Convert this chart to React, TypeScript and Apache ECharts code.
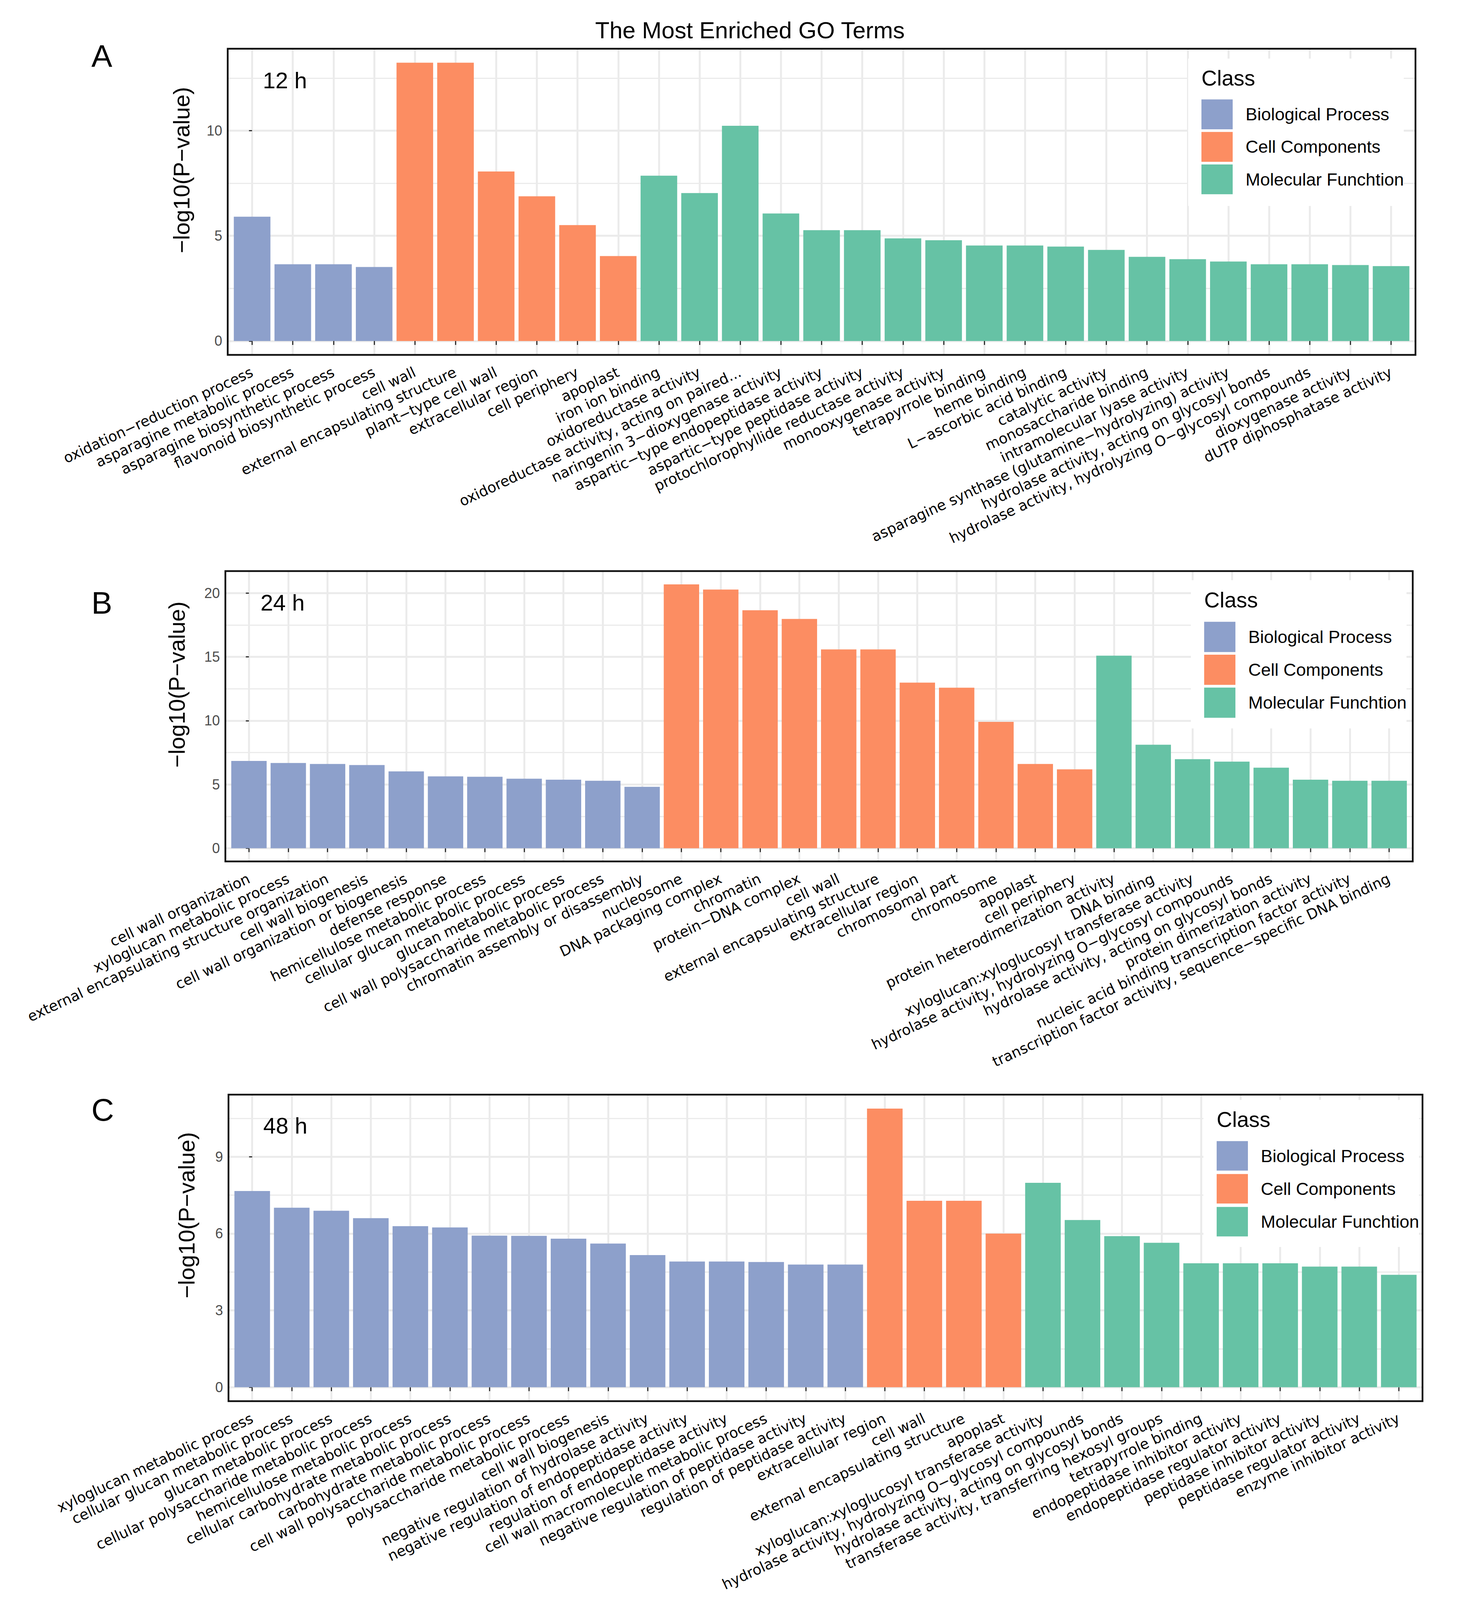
import { useEffect, useRef } from "react";
import * as echarts from "echarts";

const CLASS_NAMES = ["Biological Process", "Cell Components", "Molecular Funchtion"];
const CLASS_COLORS = ["#8DA0CB", "#FC8D62", "#66C2A5"];

// ---- 12 h ----
const BP_12H = ["oxidation−reduction process", "asparagine metabolic process", "asparagine biosynthetic process", "flavonoid biosynthetic process"];
const BP_12H_VALUES = [5.91, 3.65, 3.65, 3.52];
const CC_12H = ["cell wall", "external encapsulating structure", "plant−type cell wall", "extracellular region", "cell periphery", "apoplast"];
const CC_12H_VALUES = [13.23, 13.23, 8.06, 6.88, 5.51, 4.04];
const MF_12H = [
  "iron ion binding", "oxidoreductase activity", "oxidoreductase activity, acting on paired...",
  "naringenin 3−dioxygenase activity", "aspartic−type endopeptidase activity", "aspartic−type peptidase activity",
  "protochlorophyllide reductase activity", "monooxygenase activity", "tetrapyrrole binding", "heme binding",
  "L−ascorbic acid binding", "catalytic activity", "monosaccharide binding", "intramolecular lyase activity",
  "asparagine synthase (glutamine−hydrolyzing) activity", "hydrolase activity, acting on glycosyl bonds",
  "hydrolase activity, hydrolyzing O−glycosyl compounds", "dioxygenase activity", "dUTP diphosphatase activity",
];
const MF_12H_VALUES = [7.86, 7.03, 10.23, 6.06, 5.27, 5.27, 4.88, 4.79, 4.54, 4.54, 4.49, 4.33, 4.0, 3.89, 3.78, 3.65, 3.65, 3.61, 3.56];
const TICKS_12H = [0, 5, 10];
const MINOR_12H = [2.5, 7.5, 12.5];

// ---- 24 h ----
const BP_24H = [
  "cell wall organization", "xyloglucan metabolic process", "external encapsulating structure organization",
  "cell wall biogenesis", "cell wall organization or biogenesis", "defense response", "hemicellulose metabolic process",
  "cellular glucan metabolic process", "glucan metabolic process", "cell wall polysaccharide metabolic process",
  "chromatin assembly or disassembly",
];
const BP_24H_VALUES = [6.84, 6.68, 6.6, 6.52, 6.02, 5.63, 5.6, 5.45, 5.37, 5.29, 4.81];
const CC_24H = [
  "nucleosome", "DNA packaging complex", "chromatin", "protein−DNA complex", "cell wall",
  "external encapsulating structure", "extracellular region", "chromosomal part", "chromosome", "apoplast", "cell periphery",
];
const CC_24H_VALUES = [20.68, 20.27, 18.65, 17.97, 15.58, 15.58, 12.98, 12.58, 9.9, 6.6, 6.18];
const MF_24H = [
  "protein heterodimerization activity", "DNA binding", "xyloglucan:xyloglucosyl transferase activity",
  "hydrolase activity, hydrolyzing O−glycosyl compounds", "hydrolase activity, acting on glycosyl bonds",
  "protein dimerization activity", "nucleic acid binding transcription factor activity",
  "transcription factor activity, sequence−specific DNA binding",
];
const MF_24H_VALUES = [15.09, 8.11, 6.98, 6.79, 6.31, 5.37, 5.29, 5.29];
const TICKS_24H = [0, 5, 10, 15, 20];
const MINOR_24H = [2.5, 7.5, 12.5, 17.5];

// ---- 48 h ----
const BP_48H = [
  "xyloglucan metabolic process", "cellular glucan metabolic process", "glucan metabolic process",
  "cellular polysaccharide metabolic process", "hemicellulose metabolic process", "cellular carbohydrate metabolic process",
  "carbohydrate metabolic process", "cell wall polysaccharide metabolic process", "polysaccharide metabolic process",
  "cell wall biogenesis", "negative regulation of hydrolase activity", "negative regulation of endopeptidase activity",
  "regulation of endopeptidase activity", "cell wall macromolecule metabolic process",
  "negative regulation of peptidase activity", "regulation of peptidase activity",
];
const BP_48H_VALUES = [7.66, 7.01, 6.89, 6.6, 6.29, 6.24, 5.92, 5.91, 5.8, 5.61, 5.16, 4.91, 4.91, 4.89, 4.79, 4.79];
const CC_48H = ["extracellular region", "cell wall", "external encapsulating structure", "apoplast"];
const CC_48H_VALUES = [10.88, 7.28, 7.28, 6.0];
const MF_48H = [
  "xyloglucan:xyloglucosyl transferase activity", "hydrolase activity, hydrolyzing O−glycosyl compounds",
  "hydrolase activity, acting on glycosyl bonds", "transferase activity, transferring hexosyl groups",
  "tetrapyrrole binding", "endopeptidase inhibitor activity", "endopeptidase regulator activity",
  "peptidase inhibitor activity", "peptidase regulator activity", "enzyme inhibitor activity",
];
const MF_48H_VALUES = [7.98, 6.53, 5.9, 5.64, 4.84, 4.84, 4.84, 4.71, 4.71, 4.39];
const TICKS_48H = [0, 3, 6, 9];
const MINOR_48H = [1.5, 4.5, 7.5, 10.5];

const FONT = '"Liberation Sans", Arial, sans-serif';
const LABEL_FONT = '"DejaVu Sans", Verdana, sans-serif';
const GRID_COLOR = "#EBEBEB";
const PAGE_W = 3738;
const PAGE_H = 4233;

// layout of the three panels (pixels, in a 3738 x 4233 page)
const PANELS = [
  {
    letter: "A", time: "12 h",
    groups: [[BP_12H, BP_12H_VALUES], [CC_12H, CC_12H_VALUES], [MF_12H, MF_12H_VALUES]] as [string[], number[]][],
    ticks: TICKS_12H, minor: MINOR_12H,
    left: 583, right: 3624, top: 129, bottom: 939,
    keyLeft: 3076, keyTop: 263, keyH: 79, keyGap: 7, classY: 227,
    box: [3042, 155, 552, 390], yTitle: [464, 450], letterY: 177, timeX: 673, timeY: 233,
  },
  {
    letter: "B", time: "24 h",
    groups: [[BP_24H, BP_24H_VALUES], [CC_24H, CC_24H_VALUES], [MF_24H, MF_24H_VALUES]] as [string[], number[]][],
    ticks: TICKS_24H, minor: MINOR_24H,
    left: 577, right: 3617, top: 1511, bottom: 2279,
    keyLeft: 3083, keyTop: 1645, keyH: 80, keyGap: 7, classY: 1607,
    box: [3049, 1535, 552, 392], yTitle: [452, 1811], letterY: 1624, timeX: 667, timeY: 1615,
  },
  {
    letter: "C", time: "48 h",
    groups: [[BP_48H, BP_48H_VALUES], [CC_48H, CC_48H_VALUES], [MF_48H, MF_48H_VALUES]] as [string[], number[]][],
    ticks: TICKS_48H, minor: MINOR_48H,
    left: 585, right: 3642, top: 2896, bottom: 3707,
    keyLeft: 3115, keyTop: 3019, keyH: 78, keyGap: 9, classY: 2982,
    box: [3081, 2910, 552, 389], yTitle: [477, 3215], letterY: 2965, timeX: 674, timeY: 2999,
  },
];

// s squeezes the layout vertically when the window is shorter than the page
function buildOption(s: number): echarts.EChartsOption {
  const Y = (v: number) => v * s;
  const grid: any[] = [];
  const xAxis: any[] = [];
  const yAxis: any[] = [];
  const series: any[] = [];
  const legend: any[] = [];
  const graphic: any[] = [];

  const text = (x: number, y: number, str: string, size: number, extra: any = {}) => ({
    type: "text", x, y, z: 20,
    style: {
      text: str, fontSize: size, fontFamily: FONT, fill: "#000",
      align: "left", verticalAlign: "middle", textAlign: "left", textVerticalAlign: "middle",
      ...(extra.style || {}),
    },
    ...(extra.el || {}),
  });

  graphic.push(text(1920, Y(102) - 0.35 * 60, "The Most Enriched GO Terms", 60, {
    style: { align: "center", textAlign: "center" },
  }));

  PANELS.forEach((p, i) => {
    const terms = p.groups.flatMap((g) => g[0]);
    const values = p.groups.flatMap((g) => g[1]);
    const n = terms.length;
    const idx = terms.map((_, k) => k);
    const vmax = Math.max(...values);
    const top = Y(p.top);
    const bottom = Y(p.bottom);

    grid.push({ left: p.left, top, width: p.right - p.left, height: bottom - top });

    xAxis.push({
      type: "value", gridIndex: i, min: -0.6, max: n - 0.4,
      axisLine: { show: false },
      axisTick: { show: true, customValues: idx, length: 10, lineStyle: { color: "#333", width: 3 } },
      axisLabel: {
        show: true, customValues: idx, rotate: 25, margin: 42,
        formatter: (v: number) => terms[Math.round(v)] ?? "",
        fontSize: 37, fontFamily: LABEL_FONT, color: "#000",
      },
      splitLine: { show: true, lineStyle: { color: GRID_COLOR, width: 5 } },
    });

    const ymin = -0.05 * vmax;
    const ymax = 1.05 * vmax;
    yAxis.push({
      type: "value", gridIndex: i, min: ymin, max: ymax, position: "left",
      axisLine: { show: false },
      axisTick: { show: true, customValues: p.ticks, length: 8, lineStyle: { color: "#333", width: 3 } },
      axisLabel: { show: true, customValues: p.ticks, margin: 14, fontSize: 36, fontFamily: FONT, color: "#4D4D4D" },
      splitLine: { show: true, lineStyle: { color: GRID_COLOR, width: 5 } },
    });
    yAxis.push({
      type: "value", gridIndex: i, min: ymin, max: ymax, position: "left",
      axisLine: { show: false },
      axisTick: { show: false, customValues: p.minor },
      axisLabel: { show: false, customValues: p.minor },
      splitLine: { show: true, lineStyle: { color: GRID_COLOR, width: 3 } },
    });

    let start = 0;
    p.groups.forEach((g, c) => {
      const first = start;
      series.push({
        type: "bar", name: CLASS_NAMES[c], xAxisIndex: i, yAxisIndex: 2 * i,
        data: g[1].map((v, k) => [first + k, v]),
        barWidth: "90%", barGap: "-100%",
        itemStyle: { color: CLASS_COLORS[c] },
        silent: true, z: 3,
      });
      start += g[0].length;
    });

    legend.push({
      left: p.keyLeft, top: Y(p.keyTop), orient: "vertical", padding: 0,
      itemWidth: 80, itemHeight: Y(p.keyH), itemGap: Y(p.keyGap), icon: "rect",
      selectedMode: false, data: CLASS_NAMES, z: 8,
      textStyle: { fontSize: 45, fontFamily: FONT, color: "#000", padding: [0, 0, 0, 28] },
    });

    // white legend box
    graphic.push({
      type: "rect", z: 1,
      shape: { x: p.box[0], y: Y(p.box[1]), width: p.box[2], height: Y(p.box[3]) },
      style: { fill: "#fff" },
    });
    // panel border
    graphic.push({
      type: "rect", z: 15,
      shape: { x: p.left, y: top, width: p.right - p.left, height: bottom - top },
      style: { fill: "none", stroke: "#111", lineWidth: 4.5 },
    });
    graphic.push(text(p.keyLeft, Y(p.classY) - 0.35 * 55, "Class", 55));
    graphic.push(text(p.timeX, Y(p.timeY) - 0.35 * 58, p.time, 58));
    graphic.push(text(234, Y(p.letterY) - 0.35 * 80, p.letter, 80));
    graphic.push(text(p.yTitle[0], Y(p.yTitle[1]), "−log10(P−value)", 58, {
      style: { align: "center", textAlign: "center" },
      el: { rotation: Math.PI / 2 },
    }));
  });

  return {
    animation: false,
    backgroundColor: "#fff",
    grid, xAxis, yAxis, series, legend, graphic,
  };
}

export default function App() {
  const chartRef = useRef<HTMLDivElement>(null);
  const s = Math.min(1, window.innerHeight / PAGE_H);

  useEffect(() => {
    if (!chartRef.current) return;
    const chart = echarts.init(chartRef.current, null, { renderer: "svg" });
    chart.setOption(buildOption(s));
    return () => chart.dispose();
  }, [s]);

  return (
    <div
      ref={chartRef}
      style={{ position: "absolute", left: 0, top: 0, width: PAGE_W, height: Math.floor(PAGE_H * s), background: "#fff" }}
    />
  );
}
